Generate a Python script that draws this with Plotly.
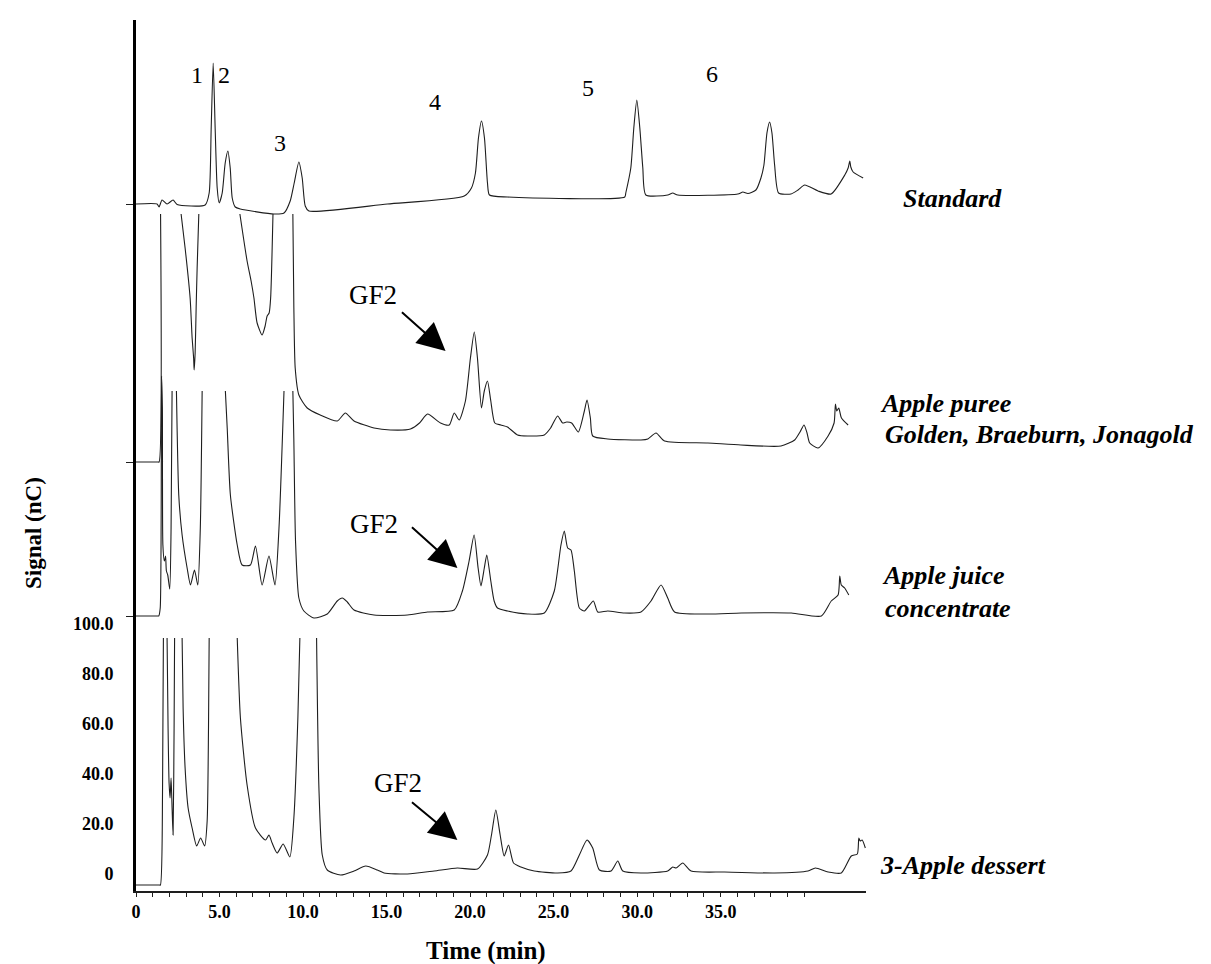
import plotly.graph_objects as go

# ---------------- data (time in min, signal in nC relative to each trace's own start level) ----
STD_T = [0, 1.26, 1.38, 1.56, 1.86, 2.22, 2.46, 4.14, 4.38, 4.50, 4.62, 4.74, 4.86, 4.98, 5.16, 5.34,
         5.50, 5.64, 5.76, 5.94, 6.24, 8.26, 8.86, 9.23, 9.47, 9.75, 9.95, 10.13, 10.35, 15.05, 19.65,
         20.08, 20.32, 20.5, 20.68, 20.86, 21.04, 21.16, 22.24, 29.26, 29.32, 29.62, 29.80, 29.98, 30.16,
         30.34, 30.52, 31.83, 32.13, 32.43, 36.03, 36.33, 36.63, 37.11, 37.41, 37.59, 37.77, 37.93, 38.07,
         38.23, 38.47, 39.21, 39.63, 40.03, 40.83, 41.61, 42.43, 42.63, 42.73, 42.79, 42.93, 43.53]
STD_S = [0, 0, -1.2, 1.6, 0, 1.6, -0.2, -0.4, 4.4, 30, 56.4, 30, 6.4, 0.4, 4.4, 16.4,
         21.2, 14.4, 2.4, -1.2, -2, -4, -3.6, 1.2, 8.4, 16.8, 10.4, -0.8, -2.8, 0, 3.2,
         6.4, 12.4, 26.4, 33.2, 26.4, 8.4, 3.6, 2.8, 2.8, 4.4, 14.4, 30.4, 41.6, 30.4,
         14.4, 3.6, 3.6, 4.4, 3.6, 4, 4.8, 4.2, 5.6, 10.4, 15.6, 28.4, 32.8, 28.4,
         15.6, 4.4, 4, 5.6, 7.6, 5.2, 4, 11.6, 14.4, 17.2, 14.8, 12.8, 10.4]

PUR_T = [0, 1.30, 1.38, 1.47, None, 2.70, 2.94, 3.24, 3.36, 3.45, 3.48, 3.54, 3.60, 3.66, 3.76, None,
         6.22, 6.65, 6.89, 7.06, 7.25, 7.55, 7.73, 7.85, 7.97, 8.06, 8.20, None,
         9.39, 9.45, 9.53, 9.75, 10.25, 11.03, 12.05, 12.53, 13.05, 14.25, 15.23, 16.43, 16.97, 17.45,
         18.23, 18.75, 19.05, 19.35, 19.72, 20.02, 20.25, 20.44, 20.68, 20.85, 21.04, 21.24, 21.48,
         21.84, 22.24, 22.84, 23.44, 24.44, 24.82, 25.24, 25.54, 25.78, 26.08, 26.48, 26.84, 27.0,
         27.20, 27.34, 28.24, 30.23, 30.64, 31.13, 31.64, 34.23, 36.21, 38.61, 39.43, 39.75, 39.99,
         40.17, 40.33, 40.83, 41.43, 41.79, 41.87, 41.95, 42.07, 42.23, 42.63]
PUR_S = [0, 0, 0, 99.2, None, 99.2, 85.6, 65.6, 49.6, 41.6, 36.8, 43.6, 61.6, 77.6, 99.2, None,
         99.2, 80.4, 72.4, 65.6, 55.6, 50.8, 54.4, 58.4, 59.6, 65.6, 99.2, None,
         99.2, 61.6, 37.6, 26.8, 21.6, 18.8, 16.4, 19.6, 16.4, 13.6, 12.8, 13.2, 15.6, 19.2,
         15.6, 14.8, 19.6, 16.8, 24.4, 41.6, 52, 41.6, 21.6, 28.4, 32.4, 24.4, 15.6,
         14.8, 14, 10.8, 10.4, 10.8, 13.6, 18.4, 15.6, 16, 15.6, 12, 20.4, 24.8,
         17.6, 10.4, 9.2, 8.8, 9.2, 11.6, 8.4, 7.6, 6.8, 6.4, 8.8, 12, 14.8,
         11.6, 7.6, 5.6, 10.4, 15.6, 23.2, 20.4, 21.6, 17.6, 14.8]

JUI_T = [0, 1.28, 1.36, 1.45, 1.53, 1.58, 1.61, 1.70, 1.77, 1.82, 1.90, 2.02, 2.10, 2.16, None,
         2.42, 2.46, 2.56, 2.76, 3.06, 3.26, 3.50, 3.70, 3.85, 3.96, None,
         5.35, 5.46, 5.65, 6.06, 6.35, 6.85, 7.15, 7.55, 7.96, 8.32, 8.56, 8.86, None,
         9.39, 9.45, 9.55, 9.75, 10.05, 10.65, 11.45, 12.05, 12.35, 12.65, 13.05, 14.25, 16.25,
         17.45, 19.05, 19.54, 19.94, 20.24, 20.48, 20.65, 20.85, 21.0, 21.24, 21.44, 21.64, 22.24,
         23.44, 24.44, 25.04, 25.44, 25.64, 25.84, 26.04, 26.24, 26.54, 26.84, 27.38, 27.64, 28.24,
         29.24, 30.23, 30.83, 31.43, 31.83, 32.24, 34.23, 36.23, 39.23, 41.03, 41.62, 42.03, 42.13,
         42.22, 42.42, 42.67]
JUI_S = [0, 0, 0, 3.2, 96, 83.2, 28.4, 22, 24, 18, 16.4, 10.8, 35.2, 90, None,
         90, 75.2, 48.4, 32.4, 19.2, 12.4, 18.4, 12.4, 35.2, 90, None,
         90, 75.2, 48.4, 28.4, 20.4, 20.4, 28, 12.4, 24, 12.4, 35.2, 90, None,
         90, 70, 30, 7.2, 2, -0.8, 0.8, 6, 7.2, 5.6, 2.4, 0.4, 0.4,
         1.6, 2.4, 10, 22, 32.4, 19.2, 12, 19.2, 24.4, 14, 6, 3.2, 2,
         0.8, 1.2, 10, 28.4, 34, 27.2, 26.4, 18, 3.2, 2, 6, 1.6, 2,
         1.2, 1.6, 6, 12.4, 7.2, 1.6, 0.8, 1.2, 1.2, 0, 6, 8.4, 16,
         12.4, 11.2, 8.4]

DES_T = [0, 1.38, 1.46, 1.59, 1.64, None, 1.86, 1.92, 1.98, 2.04, 2.10, 2.16, 2.22, 2.28, 2.31, None,
         2.76, 2.82, 2.94, 3.12, 3.36, 3.63, 3.87, 4.11, 4.26, 4.34, 4.38, None,
         6.06, 6.25, 6.65, 7.15, 7.75, 7.96, 8.15, 8.45, 8.81, 9.21, 9.45, 9.69, 9.81, None,
         10.81, 10.95, 11.15, 11.45, 12.25, 13.05, 13.75, 14.45, 14.85, 16.25, 17.85, 19.24, 20.44,
         21.04, 21.28, 21.54, 21.80, 22.04, 22.30, 22.60, 23.04, 23.84, 25.24, 26.04, 26.54, 27.0,
         27.34, 27.74, 28.44, 28.84, 29.14, 30.23, 31.83, 32.13, 32.33, 32.73, 33.23, 35.23, 38.23,
         40.23, 40.67, 41.43, 42.22, 42.82, 43.18, 43.27, 43.35, 43.47, 43.66]
DES_S = [-4.4, -4.4, -4.4, 34.4, 94.4, None, 94.4, 58.4, 36.4, 30.4, 38.4, 26.4, 15.6, 58.4, 94.4, None,
         94.4, 66.4, 42.4, 26.4, 18.4, 11.2, 14.4, 11.2, 21.2, 58.4, 94.4, None,
         94.4, 62.4, 35.6, 18.4, 13.6, 15.6, 12.4, 8.4, 12, 6.8, 22.4, 62.4, 94.4, None,
         94.4, 34.4, 7.6, 1.6, -0.4, 1.2, 3.2, 1.6, 0.4, 0, 1.2, 2.4, 2,
         7.6, 15.6, 25.6, 15.6, 7.2, 11.6, 4.4, 2.8, 1.2, 0.4, 1.2, 7.6, 13.6,
         10.4, 1.6, 1.2, 5.2, 1.2, 0.4, 1.2, 2.8, 2.4, 4.4, 1.2, 0.8, 0.4,
         1.2, 2.4, 0.8, 0.4, 7.2, 8, 14.4, 13.2, 13.6, 10.4]

SAMPLES = ["Standard", "Apple puree", "Apple juice concentrate", "3-Apple dessert"]
OFFSETS = [268.0, 164.8, 103.2, 0.0]     # vertical stacking of the chromatograms (nC)

X_TICKS = list(range(0, 41))
X_LABELS = {0: "0", 5: "5.0", 10: "10.0", 15: "15.0", 20: "20.0", 25: "25.0", 30: "30.0", 35: "35.0"}
Y_TICKS = [0, 20, 40, 60, 80, 100]
Y_LABELS = ["0", "20.0", "40.0", "60.0", "80.0", "100.0"]

PEAK_LABELS = ["1", "2", "3", "4", "5", "6"]
PEAK_POS = [(3.66, 319.6), (5.28, 319.6), (8.63, 292.4), (17.87, 308.8), (27.04, 314.4), (34.47, 320.0)]

GF2_TEXT_POS = [(14.21, 231.6), (14.27, 140.0), (15.71, 36.4)]
GF2_ARROW_TAIL = [(15.83, 225.2), (16.43, 139.2), (16.43, 29.2)]
GF2_ARROW_HEAD = [(18.53, 209.2), (19.24, 122.4), (19.24, 13.6)]

# ---------------- figure ----------------
W, H = 1211, 964
PL, PR, PT, PB = 128, 858, 12, 883
FONT = "Liberation Serif"
INK = "#1e1e1e"


def px(xp):
    return (xp - PL) / (PR - PL)


def py(yp):
    return (PB - yp) / (PB - PT)


fig = go.Figure()
series = [(STD_T, STD_S), (PUR_T, PUR_S), (JUI_T, JUI_S), (DES_T, DES_S)]
for name, (t, s), off in zip(SAMPLES, series, OFFSETS):
    y = [None if v is None else v + off for v in s]
    fig.add_trace(go.Scatter(x=t, y=y, mode="lines", name=name, connectgaps=False,
                             line=dict(color=INK, width=1.1, shape="spline", smoothing=0.6),
                             hoverinfo="skip"))

ann = []
for lab, (tx, ty) in zip(PEAK_LABELS, PEAK_POS):
    ann.append(dict(x=tx, y=ty, xref="x", yref="y", text=lab, showarrow=False,
                    font=dict(family=FONT, size=24, color="black")))
for (tx, ty), (ax, ay), (hx, hy) in zip(GF2_TEXT_POS, GF2_ARROW_TAIL, GF2_ARROW_HEAD):
    ann.append(dict(x=tx, y=ty, xref="x", yref="y", text="GF2", showarrow=False,
                    font=dict(family=FONT, size=27, color="black")))
    ann.append(dict(x=hx, y=hy, xref="x", yref="y", ax=ax, ay=ay, axref="x", ayref="y",
                    text="", showarrow=True, arrowhead=2, arrowsize=2.8, arrowwidth=2,
                    arrowcolor="black", standoff=0))

right_labels = [("<b><i>Standard</i></b>", 893, 190),
                ("<b><i>Apple puree</i></b>", 870, 395),
                ("<b><i>Golden, Braeburn, Jonagold</i></b>", 875, 427),
                ("<b><i>Apple juice</i></b>", 872, 567),
                ("<b><i>concentrate</i></b>", 875, 600),
                ("<b><i>3-Apple dessert</i></b>", 870, 857)]
for txt, xp, yp in right_labels:
    ann.append(dict(x=px(xp), y=py(yp), xref="paper", yref="paper", text=txt, showarrow=False,
                    xanchor="left", yanchor="middle",
                    font=dict(family=FONT, size=26, color="black")))

ann.append(dict(x=px(25), y=py(525), xref="paper", yref="paper", text="<b>Signal (nC)</b>",
                showarrow=False, textangle=-90, xanchor="center", yanchor="middle",
                font=dict(family=FONT, size=23, color="black")))
ann.append(dict(x=px(478), y=py(943), xref="paper", yref="paper", text="<b>Time (min)</b>",
                showarrow=False, xanchor="center", yanchor="middle",
                font=dict(family=FONT, size=25, color="black")))

fig.update_layout(
    width=W, height=H,
    margin=dict(l=PL, r=W - PR, t=PT, b=H - PB, pad=0),
    paper_bgcolor="white", plot_bgcolor="white",
    showlegend=False,
    annotations=ann,
    xaxis=dict(range=[0, 43.7], showgrid=False, zeroline=False,
               showline=True, linecolor=INK, linewidth=1.5,
               tickmode="array", tickvals=X_TICKS,
               ticktext=[X_LABELS.get(v, "") for v in X_TICKS],
               ticks="outside", ticklen=4, tickwidth=1, tickcolor=INK,
               tickfont=dict(family=FONT, size=18, color="black", weight="bold")),
    yaxis=dict(range=[-6.8, 341.6], showgrid=False, zeroline=False,
               showline=True, linecolor="black", linewidth=3,
               tickmode="array", tickvals=Y_TICKS, ticktext=Y_LABELS,
               ticks="", ticklabelstandoff=16,
               tickfont=dict(family=FONT, size=18, color="black", weight="bold"),
               minor=dict(tickmode="array", tickvals=OFFSETS[:3], ticks="outside",
                          ticklen=7, tickwidth=1, tickcolor=INK)),
)

fig.write_html("out.html")
